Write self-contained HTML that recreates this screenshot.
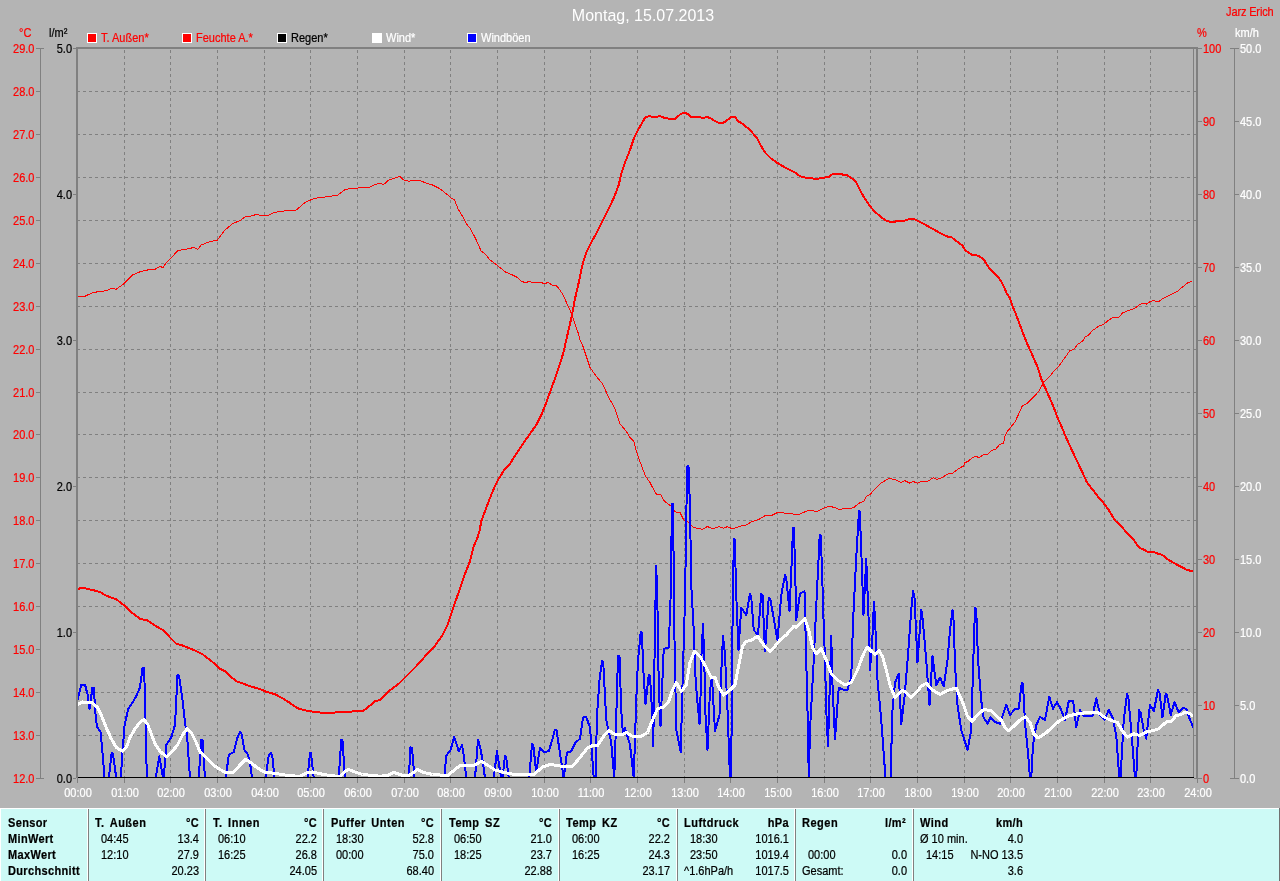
<!DOCTYPE html>
<html><head><meta charset="utf-8"><title>Montag, 15.07.2013</title>
<style>
html,body{margin:0;padding:0;background:#b4b4b4;overflow:hidden}
body{width:1280px;height:881px;position:relative;font-family:"Liberation Sans",sans-serif;font-size:11px;line-height:11px}
svg{position:absolute;left:0;top:0}
.t{position:absolute;white-space:nowrap;height:11px;line-height:11px;transform:scaleY(1.13);transform-origin:50% 50%;-webkit-text-stroke:0.2px currentColor;will-change:transform}
.r{color:#ff0000}.w{color:#ffffff}.k{color:#000000}
.ra{text-align:right}
.ca{text-align:center}
#tbl{position:absolute;left:0;top:808px;width:1280px;height:73px;background:#cdfaf6}
#tbl .b{font-weight:bold;letter-spacing:0.35px}
</style></head><body>

<svg width="1280" height="881" viewBox="0 0 1280 881" shape-rendering="crispEdges">
<path d="M124.5 50V777M170.5 50V777M217.5 50V777M264.5 50V777M310.5 50V777M357.5 50V777M404.5 50V777M450.5 50V777M497.5 50V777M544.5 50V777M590.5 50V777M637.5 50V777M684.5 50V777M730.5 50V777M777.5 50V777M824.5 50V777M870.5 50V777M917.5 50V777M964.5 50V777M1010.5 50V777M1057.5 50V777M1104.5 50V777M1150.5 50V777M77 735.5H1193M77 692.5H1193M77 649.5H1193M77 606.5H1193M77 563.5H1193M77 520.5H1193M77 477.5H1193M77 434.5H1193M77 392.5H1193M77 349.5H1193M77 306.5H1193M77 263.5H1193M77 220.5H1193M77 177.5H1193M77 134.5H1193M77 91.5H1193" stroke="#808080" stroke-width="1" stroke-dasharray="3 3" fill="none"/>
</svg>
<svg width="1280" height="881" viewBox="0 0 1280 881">
<defs><clipPath id="cp"><rect x="78" y="49" width="1116" height="728"/></clipPath></defs>
<g fill="none" stroke-linejoin="round" stroke-linecap="butt" clip-path="url(#cp)" shape-rendering="crispEdges">
<path d="M77.50 296.50 L85.00 296.25 L91.25 293.25 L98.75 291.50 L106.25 290.75 L111.25 288.50 L116.25 289.25 L123.75 283.75 L132.50 275.00 L140.00 271.75 L147.50 270.00 L155.00 269.25 L160.00 266.50 L163.00 267.50 L166.25 262.50 L173.75 255.00 L178.00 250.50 L185.00 249.50 L193.75 247.50 L198.00 249.25 L201.25 245.00 L208.75 242.00 L217.50 240.00 L225.00 230.00 L232.50 223.75 L240.00 220.50 L245.50 216.50 L251.25 216.00 L256.25 214.50 L262.50 215.50 L268.75 215.00 L273.75 212.50 L280.00 211.50 L287.50 210.50 L296.25 210.00 L305.00 202.50 L313.75 198.50 L321.25 197.50 L330.00 196.25 L338.00 195.00 L345.00 189.50 L353.75 188.25 L362.50 187.75 L370.00 187.00 L375.00 184.50 L380.00 183.25 L383.75 184.50 L388.75 180.00 L395.00 178.00 L400.00 176.50 L403.75 180.00 L408.75 181.25 L413.75 180.25 L420.00 180.75 L426.25 183.00 L432.50 185.00 L440.00 188.75 L446.25 193.75 L451.25 198.00 L454.50 200.00 L458.00 208.75 L462.50 216.25 L466.25 223.75 L470.50 228.75 L476.25 240.00 L481.25 251.25 L485.00 253.75 L490.00 260.00 L497.50 265.50 L505.00 271.75 L512.50 275.00 L517.50 277.50 L521.25 281.25 L525.00 282.50 L528.75 281.75 L535.00 282.50 L541.25 282.50 L544.50 283.75 L548.00 282.50 L552.00 285.00 L556.25 285.50 L560.00 290.00 L563.75 296.25 L567.50 305.00 L571.25 313.00 L575.00 323.75 L578.00 332.50 L580.00 340.00 L582.50 345.00 L590.00 367.50 L596.25 376.25 L602.50 383.75 L608.75 397.50 L615.00 408.75 L620.00 423.75 L626.25 431.25 L630.00 437.50 L633.75 441.25 L637.50 455.00 L641.25 465.00 L645.50 476.25 L650.00 482.50 L654.50 491.25 L657.00 495.00 L660.50 494.50 L664.50 501.25 L671.25 506.25 L675.50 512.00 L680.00 512.50 L683.75 520.00 L688.75 522.50 L692.50 526.75 L696.25 528.25 L702.50 529.25 L707.50 526.50 L712.50 528.75 L718.75 526.75 L723.75 528.25 L727.00 526.75 L732.50 528.75 L740.00 526.25 L746.25 525.00 L751.25 522.00 L758.75 519.50 L766.25 515.00 L772.50 515.00 L777.50 512.50 L783.75 513.00 L792.50 514.00 L800.00 514.00 L806.25 511.25 L811.25 510.00 L816.25 512.00 L822.50 508.75 L828.75 506.25 L835.00 507.50 L840.00 510.00 L843.75 508.25 L847.50 509.00 L853.75 507.50 L860.00 502.50 L863.75 501.50 L866.25 496.25 L870.00 494.38 L875.62 488.50 L880.00 483.75 L884.38 481.00 L889.38 478.50 L894.38 479.38 L900.62 482.50 L904.75 480.62 L909.75 483.12 L913.12 481.50 L917.50 483.12 L921.25 481.50 L926.25 481.50 L929.38 480.38 L933.12 477.75 L936.88 479.38 L941.88 477.75 L948.12 473.75 L952.50 473.38 L958.75 468.50 L963.75 465.88 L964.75 462.75 L968.12 461.25 L973.12 457.25 L976.25 456.50 L979.38 457.75 L983.12 454.75 L987.50 454.38 L991.25 450.62 L995.62 449.38 L999.38 444.75 L1003.50 443.12 L1005.00 436.25 L1007.50 431.25 L1015.00 421.88 L1020.00 411.25 L1022.00 406.25 L1027.50 403.00 L1033.75 397.00 L1038.75 391.25 L1043.75 382.50 L1048.75 377.50 L1053.75 371.25 L1058.75 366.25 L1065.00 357.50 L1070.00 350.50 L1073.75 349.50 L1077.50 344.50 L1082.50 341.25 L1085.00 337.00 L1088.75 335.00 L1092.50 330.50 L1098.75 326.25 L1103.75 324.25 L1108.75 320.00 L1113.75 317.00 L1118.75 317.50 L1122.50 313.00 L1127.50 310.75 L1135.00 308.25 L1140.00 304.25 L1143.75 303.25 L1146.25 304.25 L1150.00 301.75 L1153.75 300.50 L1158.00 302.00 L1162.50 298.75 L1170.00 295.00 L1177.50 291.25 L1182.50 287.00 L1187.50 283.00 L1192.50 280.75" stroke="#ff0000" stroke-width="1"/>
<path d="M77.50 700.00 L81.25 685.00 L85.00 684.50 L88.00 696.25 L89.50 708.75 L92.50 687.50 L94.00 687.50 L95.00 710.00 L97.00 727.00 L100.50 732.00 L102.50 752.50 L104.50 778.00 L108.75 778.00 L111.75 752.50 L113.00 753.75 L116.25 778.00 L120.75 778.00 L122.50 752.50 L124.50 726.25 L128.00 709.25 L132.50 702.50 L136.25 696.25 L140.00 687.50 L142.50 668.00 L144.00 668.00 L145.00 696.25 L146.00 750.00 L147.00 778.00 L155.75 778.00 L159.25 756.25 L161.25 767.50 L163.00 778.00 L163.75 778.00 L166.25 745.00 L171.25 737.50 L175.00 725.00 L177.50 675.00 L179.00 675.50 L182.50 700.00 L185.00 722.50 L187.00 735.00 L190.00 778.00 L198.75 778.00 L201.25 739.50 L202.50 740.00 L205.00 778.00 L225.75 778.00 L228.75 755.00 L233.75 752.00 L237.50 737.50 L240.00 732.00 L241.25 732.50 L244.50 750.00 L247.50 753.75 L250.00 762.50 L252.00 778.00 L265.50 778.00 L268.75 755.00 L271.25 753.00 L272.50 757.50 L274.50 778.00 L307.50 778.00 L310.00 753.00 L311.00 753.00 L313.75 778.00 L338.75 778.00 L341.25 740.00 L342.50 740.50 L345.00 778.00 L408.75 778.00 L410.50 747.50 L412.00 748.00 L414.50 778.00 L444.25 778.00 L446.25 755.75 L450.50 750.00 L454.25 737.00 L458.75 751.25 L462.00 745.00 L463.75 755.00 L466.25 778.00 L475.00 778.00 L478.00 740.00 L480.00 746.25 L482.50 760.00 L485.00 778.00 L493.75 778.00 L497.00 751.25 L499.50 767.50 L501.25 778.00 L502.50 778.00 L505.00 755.75 L506.25 757.50 L508.75 778.00 L529.25 778.00 L532.00 743.75 L533.25 745.00 L536.25 772.50 L540.00 747.50 L543.75 752.00 L548.75 751.25 L552.50 738.75 L555.00 729.50 L556.50 730.00 L559.50 750.00 L563.75 778.00 L567.00 752.50 L571.25 751.25 L575.50 742.50 L580.00 738.75 L583.00 717.50 L586.25 717.00 L590.00 727.50 L593.75 778.00 L595.50 778.00 L597.00 715.00 L599.50 680.00 L602.00 661.25 L603.25 662.50 L606.25 720.00 L611.25 742.50 L614.25 778.00 L616.25 717.50 L618.00 656.25 L619.50 656.25 L621.25 710.00 L623.00 735.00 L625.00 728.00 L630.00 745.00 L633.75 778.00 L636.25 700.00 L638.00 660.00 L640.75 632.00 L642.00 632.50 L643.00 665.00 L645.50 703.75 L648.75 675.00 L650.00 676.25 L652.00 710.00 L653.25 746.25 L655.00 625.00 L656.25 565.50 L657.50 610.00 L658.75 685.00 L660.50 726.25 L662.00 690.00 L663.75 648.75 L668.75 647.50 L670.50 600.00 L672.00 504.25 L673.00 504.25 L674.50 640.00 L676.25 730.00 L680.75 752.00 L682.50 685.00 L685.00 600.00 L686.50 505.00 L687.50 466.25 L688.50 466.25 L690.00 507.50 L691.25 585.00 L693.75 630.00 L695.00 670.00 L697.00 697.50 L699.50 723.75 L700.00 722.50 L701.25 660.00 L703.00 623.50 L704.25 660.00 L705.50 715.00 L707.50 750.00 L710.00 690.00 L712.00 677.50 L715.00 731.25 L719.50 715.00 L721.25 672.50 L723.00 635.50 L725.00 655.00 L727.50 710.00 L730.00 778.00 L731.25 778.00 L732.00 660.00 L733.50 560.00 L734.00 539.25 L734.75 539.25 L736.25 595.00 L738.50 650.00 L741.25 607.50 L746.25 615.00 L750.00 593.75 L751.25 597.00 L753.75 630.00 L758.00 635.00 L761.25 593.75 L762.50 595.00 L765.00 651.25 L768.75 597.50 L770.50 600.00 L777.50 640.00 L781.25 595.00 L785.00 575.00 L786.25 578.75 L789.50 611.25 L792.00 555.00 L793.00 527.50 L793.75 527.50 L795.00 562.00 L796.25 620.00 L800.00 593.75 L804.50 591.25 L806.25 660.00 L808.00 730.00 L808.75 778.00 L810.00 730.00 L813.75 660.00 L817.00 590.00 L818.50 560.00 L819.75 534.50 L820.50 534.50 L822.00 567.00 L823.00 605.00 L825.00 660.00 L826.25 710.00 L828.00 746.25 L831.25 636.00 L832.50 685.00 L835.00 738.75 L838.75 687.50 L842.50 689.50 L847.50 689.50 L851.25 677.50 L853.00 622.50 L856.25 557.00 L859.00 511.25 L859.75 511.25 L861.25 550.00 L863.50 615.00 L866.25 558.75 L868.75 622.50 L870.00 670.00 L872.50 635.00 L874.00 601.50 L875.75 635.00 L877.50 680.00 L881.25 720.00 L885.50 778.00 L890.50 778.00 L892.50 710.00 L895.00 682.50 L898.75 673.75 L901.25 723.75 L904.50 697.50 L908.00 655.00 L911.25 610.00 L913.10 591.00 L914.50 597.50 L917.50 662.50 L921.25 610.00 L922.50 617.50 L926.25 660.00 L929.50 705.00 L932.50 656.25 L936.25 685.00 L940.00 677.50 L943.75 686.25 L947.50 660.00 L950.00 630.00 L952.50 610.00 L953.75 622.50 L955.00 665.00 L957.50 705.00 L961.25 730.00 L967.50 750.00 L971.25 730.00 L973.00 670.00 L975.00 607.50 L976.25 610.00 L978.00 660.00 L981.25 700.00 L983.00 716.25 L987.50 723.75 L990.50 717.50 L995.00 722.00 L1000.00 723.75 L1006.25 704.50 L1010.00 715.00 L1015.00 708.75 L1018.75 708.75 L1021.75 682.50 L1023.00 683.75 L1025.00 722.50 L1028.00 752.50 L1030.00 778.00 L1031.25 778.00 L1033.00 745.00 L1036.25 725.00 L1040.00 717.00 L1045.00 720.00 L1049.25 696.75 L1053.00 708.75 L1057.00 702.00 L1061.25 710.00 L1065.00 720.00 L1068.75 701.25 L1073.25 701.25 L1076.25 727.00 L1080.00 710.00 L1083.75 716.25 L1092.50 716.25 L1096.25 698.25 L1100.00 715.00 L1104.50 720.00 L1108.75 710.00 L1112.50 717.50 L1116.25 735.00 L1119.25 778.00 L1120.50 778.00 L1123.75 720.00 L1127.00 693.75 L1128.25 696.25 L1131.25 730.00 L1135.00 778.00 L1136.25 778.00 L1139.00 710.00 L1140.50 712.50 L1143.75 730.00 L1146.25 738.75 L1150.00 705.00 L1153.75 711.25 L1158.00 690.00 L1159.50 692.50 L1162.50 717.50 L1165.75 693.75 L1167.00 695.00 L1170.75 715.00 L1174.50 702.00 L1178.75 712.50 L1183.25 708.00 L1186.25 708.75 L1190.00 720.00 L1193.75 728.00" stroke="#0000ff" stroke-width="2"/>
<path d="M77.50 588.75 L83.75 588.00 L92.50 590.00 L100.00 592.00 L106.25 595.75 L116.25 599.25 L123.75 605.00 L132.50 613.25 L140.00 618.75 L147.50 620.50 L156.25 626.25 L163.75 630.50 L170.00 637.50 L176.25 643.75 L182.50 645.50 L187.50 647.50 L195.00 650.50 L202.50 654.25 L210.00 660.00 L216.25 665.00 L220.00 668.75 L225.00 671.25 L231.25 677.00 L236.25 681.25 L242.50 683.25 L250.00 686.25 L260.00 689.00 L266.25 691.75 L275.00 694.25 L282.50 698.25 L290.00 703.00 L297.50 708.25 L303.75 710.00 L310.00 711.25 L320.00 712.50 L335.00 712.50 L347.50 712.00 L356.25 711.00 L363.75 710.50 L370.00 705.50 L375.00 701.25 L380.00 700.00 L388.75 691.25 L398.75 683.75 L407.50 675.00 L416.25 666.25 L426.25 655.00 L433.75 647.50 L442.50 635.00 L447.50 625.00 L451.25 613.75 L455.00 602.50 L460.00 588.75 L465.00 573.75 L470.00 561.25 L473.75 546.25 L477.50 537.50 L479.50 531.25 L481.25 521.25 L485.00 511.25 L488.75 501.25 L493.75 488.75 L498.75 478.75 L505.00 468.75 L510.00 463.75 L516.25 453.75 L522.50 444.50 L528.75 435.50 L536.25 425.00 L541.25 415.00 L546.25 402.50 L551.25 388.75 L556.25 375.00 L561.25 360.00 L563.75 351.25 L566.25 340.00 L570.00 323.75 L572.50 312.50 L575.00 298.75 L578.75 282.50 L581.25 270.00 L583.75 260.00 L586.25 252.50 L591.25 242.50 L597.50 231.25 L603.75 218.75 L610.00 206.25 L615.00 195.00 L618.75 185.00 L621.25 173.75 L625.00 162.50 L630.00 150.00 L633.75 138.75 L638.75 128.75 L641.25 124.50 L645.00 117.50 L648.75 116.25 L655.00 117.00 L660.00 116.25 L665.00 118.00 L670.00 118.75 L675.50 118.75 L680.00 114.50 L683.75 112.75 L687.50 113.75 L691.25 117.00 L698.75 117.00 L702.50 118.00 L707.50 117.00 L711.25 118.75 L717.50 122.50 L723.75 122.50 L727.50 120.00 L731.25 116.75 L735.00 116.50 L738.00 121.25 L742.50 123.75 L750.00 130.00 L757.50 138.75 L761.25 146.25 L765.00 152.50 L771.25 158.75 L777.50 163.00 L785.00 167.50 L795.00 172.50 L800.00 176.25 L807.50 178.25 L817.50 178.75 L825.00 177.50 L828.75 177.00 L832.50 174.25 L840.00 174.00 L847.50 175.50 L852.50 178.75 L856.25 182.50 L860.00 190.00 L863.75 197.00 L870.00 206.25 L875.00 211.75 L880.00 216.25 L885.00 220.00 L891.25 222.50 L898.75 220.75 L905.00 220.50 L910.00 219.00 L915.00 219.50 L922.50 223.25 L932.50 228.75 L941.25 233.75 L947.50 236.50 L951.25 237.00 L957.50 242.00 L962.50 245.50 L965.00 250.00 L971.25 254.50 L978.75 255.75 L983.75 259.50 L988.75 267.50 L995.00 273.75 L1000.00 279.50 L1003.75 286.25 L1006.25 292.50 L1010.00 298.00 L1012.50 306.25 L1016.25 315.00 L1020.00 325.00 L1023.75 335.00 L1027.50 344.50 L1031.25 352.50 L1035.00 361.25 L1038.00 368.00 L1040.00 375.00 L1041.25 378.75 L1045.00 387.50 L1050.00 398.75 L1053.75 407.50 L1057.50 417.50 L1062.50 428.75 L1066.25 438.00 L1071.25 448.75 L1076.25 459.50 L1082.50 472.50 L1087.00 482.50 L1092.50 489.50 L1098.75 497.50 L1103.75 503.25 L1108.75 510.00 L1115.00 520.50 L1120.00 525.00 L1126.25 532.00 L1133.75 540.00 L1139.50 548.00 L1143.75 549.50 L1147.50 551.75 L1153.75 552.00 L1158.75 554.00 L1162.50 555.00 L1168.00 559.50 L1177.50 565.00 L1186.25 569.50 L1193.75 571.75" stroke="#ff0000" stroke-width="2"/>
<path d="M77.50 704.50 L82.50 702.00 L92.50 703.00 L97.50 707.50 L101.25 715.00 L106.25 727.50 L111.25 738.75 L116.25 747.50 L122.50 751.25 L126.25 747.50 L130.00 737.50 L135.00 728.75 L140.00 722.50 L143.75 719.50 L147.50 723.75 L151.25 733.75 L155.00 743.75 L160.00 751.25 L166.25 756.75 L171.25 752.50 L177.50 745.00 L182.50 735.00 L187.00 728.75 L191.25 732.50 L196.25 742.50 L200.00 752.00 L207.50 758.75 L215.00 766.25 L225.00 772.50 L233.75 772.00 L240.00 765.00 L245.50 759.50 L250.00 762.00 L257.50 768.00 L265.00 772.50 L275.00 773.25 L285.00 775.00 L300.00 776.50 L306.25 773.00 L312.50 772.00 L320.00 773.75 L330.00 775.50 L340.00 776.50 L345.00 771.25 L348.75 769.50 L355.00 772.00 L362.50 774.50 L372.50 775.50 L380.00 776.25 L387.50 775.50 L393.75 772.50 L401.25 775.00 L410.00 775.00 L417.50 769.50 L423.75 772.50 L432.50 774.50 L447.50 775.50 L455.00 769.50 L460.00 765.75 L473.75 765.50 L481.25 761.25 L487.50 765.00 L495.00 770.00 L502.50 772.00 L516.25 775.00 L533.75 774.50 L542.50 767.00 L550.00 764.50 L557.50 765.50 L565.00 767.00 L572.50 766.25 L580.00 757.50 L587.50 748.00 L592.50 745.50 L597.50 745.50 L603.75 736.25 L608.75 730.50 L615.00 734.50 L621.25 735.00 L626.25 732.50 L632.50 736.25 L641.25 736.25 L647.50 732.50 L652.50 720.00 L657.50 708.75 L663.75 707.00 L668.75 701.25 L672.50 690.00 L676.25 682.50 L681.25 691.25 L686.25 685.00 L690.00 662.50 L694.50 651.25 L700.00 656.25 L706.25 667.50 L711.25 677.50 L715.00 677.50 L718.75 687.50 L723.75 695.00 L730.00 690.00 L735.00 685.00 L738.75 665.00 L742.50 646.25 L746.25 641.25 L751.25 640.50 L757.50 636.25 L763.75 645.00 L770.00 651.25 L775.00 646.25 L780.00 640.00 L786.25 635.00 L793.75 626.25 L796.25 627.50 L805.00 618.75 L808.75 630.00 L812.50 647.50 L816.25 653.75 L821.25 648.75 L826.25 660.00 L831.25 673.75 L837.50 680.00 L845.00 685.00 L851.25 682.50 L857.50 670.00 L862.50 656.25 L867.00 647.00 L871.25 651.25 L875.00 654.50 L878.75 650.50 L882.50 656.25 L886.25 670.00 L890.00 685.00 L895.00 697.50 L898.75 693.75 L902.50 690.50 L906.25 692.50 L911.25 697.50 L916.25 692.50 L921.25 686.25 L926.25 683.25 L932.50 690.00 L940.00 694.50 L947.50 690.50 L956.25 688.00 L963.75 705.00 L967.50 716.25 L972.00 721.25 L977.50 715.00 L983.75 709.50 L991.25 710.75 L997.50 717.00 L1001.25 720.00 L1005.00 727.50 L1008.75 730.75 L1013.75 726.25 L1020.00 720.00 L1025.50 717.00 L1030.00 722.50 L1033.75 733.75 L1038.00 738.00 L1045.00 733.75 L1052.50 727.00 L1058.75 721.25 L1067.50 716.25 L1077.50 713.75 L1087.50 712.50 L1098.75 713.00 L1105.00 717.50 L1111.25 720.50 L1117.50 722.50 L1122.50 731.25 L1127.50 737.00 L1133.75 733.75 L1140.00 735.50 L1146.25 732.00 L1152.50 730.75 L1158.75 728.75 L1166.25 722.00 L1171.25 721.25 L1176.25 715.50 L1181.25 714.50 L1185.00 712.00 L1190.00 713.75 L1194.50 717.00" stroke="#ffffff" stroke-width="3" stroke-linecap="round"/>
</g>
<g shape-rendering="crispEdges" fill="#808080">
<rect x="76" y="47" width="1122" height="2"/>
<rect x="76" y="47" width="2" height="731"/>
<rect x="1196" y="47" width="2" height="732"/>
<rect x="1193" y="49" width="1" height="729"/>
<rect x="78" y="777" width="1116" height="1" fill="#000"/>
<rect x="1194" y="778" width="7" height="1"/>
<rect x="1194" y="735" width="2" height="1"/>
<rect x="1194" y="692" width="2" height="1"/>
<rect x="1194" y="649" width="2" height="1"/>
<rect x="1194" y="606" width="2" height="1"/>
<rect x="1194" y="563" width="2" height="1"/>
<rect x="1194" y="520" width="2" height="1"/>
<rect x="1194" y="477" width="2" height="1"/>
<rect x="1194" y="434" width="2" height="1"/>
<rect x="1194" y="392" width="2" height="1"/>
<rect x="1194" y="349" width="2" height="1"/>
<rect x="1194" y="306" width="2" height="1"/>
<rect x="1194" y="263" width="2" height="1"/>
<rect x="1194" y="220" width="2" height="1"/>
<rect x="1194" y="177" width="2" height="1"/>
<rect x="1194" y="134" width="2" height="1"/>
<rect x="1194" y="91" width="2" height="1"/>
<rect x="40" y="48" width="1" height="731"/>
<rect x="36" y="778" width="8" height="1"/>
<rect x="36" y="735" width="4" height="1"/>
<rect x="36" y="692" width="4" height="1"/>
<rect x="36" y="649" width="4" height="1"/>
<rect x="36" y="606" width="4" height="1"/>
<rect x="36" y="563" width="4" height="1"/>
<rect x="36" y="520" width="4" height="1"/>
<rect x="36" y="477" width="4" height="1"/>
<rect x="36" y="434" width="4" height="1"/>
<rect x="36" y="392" width="4" height="1"/>
<rect x="36" y="349" width="4" height="1"/>
<rect x="36" y="306" width="4" height="1"/>
<rect x="36" y="263" width="4" height="1"/>
<rect x="36" y="220" width="4" height="1"/>
<rect x="36" y="177" width="4" height="1"/>
<rect x="36" y="134" width="4" height="1"/>
<rect x="36" y="91" width="4" height="1"/>
<rect x="36" y="48" width="8" height="1"/>
<rect x="73" y="778" width="3" height="1"/>
<rect x="73" y="632" width="3" height="1"/>
<rect x="73" y="486" width="3" height="1"/>
<rect x="73" y="340" width="3" height="1"/>
<rect x="73" y="194" width="3" height="1"/>
<rect x="73" y="48" width="3" height="1"/>
<rect x="1198" y="778" width="4" height="1"/>
<rect x="1198" y="705" width="4" height="1"/>
<rect x="1198" y="632" width="4" height="1"/>
<rect x="1198" y="559" width="4" height="1"/>
<rect x="1198" y="486" width="4" height="1"/>
<rect x="1198" y="413" width="4" height="1"/>
<rect x="1198" y="340" width="4" height="1"/>
<rect x="1198" y="267" width="4" height="1"/>
<rect x="1198" y="194" width="4" height="1"/>
<rect x="1198" y="121" width="4" height="1"/>
<rect x="1198" y="48" width="4" height="1"/>
<rect x="1234" y="48" width="1" height="731"/>
<rect x="1230" y="778" width="9" height="1"/>
<rect x="1235" y="705" width="4" height="1"/>
<rect x="1235" y="632" width="4" height="1"/>
<rect x="1235" y="559" width="4" height="1"/>
<rect x="1235" y="486" width="4" height="1"/>
<rect x="1235" y="413" width="4" height="1"/>
<rect x="1235" y="340" width="4" height="1"/>
<rect x="1235" y="267" width="4" height="1"/>
<rect x="1235" y="194" width="4" height="1"/>
<rect x="1235" y="121" width="4" height="1"/>
<rect x="1230" y="48" width="9" height="1"/>
<rect x="77" y="778" width="1" height="5"/>
<rect x="124" y="778" width="1" height="5"/>
<rect x="170" y="778" width="1" height="5"/>
<rect x="217" y="778" width="1" height="5"/>
<rect x="264" y="778" width="1" height="5"/>
<rect x="310" y="778" width="1" height="5"/>
<rect x="357" y="778" width="1" height="5"/>
<rect x="404" y="778" width="1" height="5"/>
<rect x="450" y="778" width="1" height="5"/>
<rect x="497" y="778" width="1" height="5"/>
<rect x="544" y="778" width="1" height="5"/>
<rect x="590" y="778" width="1" height="5"/>
<rect x="637" y="778" width="1" height="5"/>
<rect x="684" y="778" width="1" height="5"/>
<rect x="730" y="778" width="1" height="5"/>
<rect x="777" y="778" width="1" height="5"/>
<rect x="824" y="778" width="1" height="5"/>
<rect x="870" y="778" width="1" height="5"/>
<rect x="917" y="778" width="1" height="5"/>
<rect x="964" y="778" width="1" height="5"/>
<rect x="1010" y="778" width="1" height="5"/>
<rect x="1057" y="778" width="1" height="5"/>
<rect x="1104" y="778" width="1" height="5"/>
<rect x="1150" y="778" width="1" height="5"/>
<rect x="1197" y="778" width="1" height="5"/>
</g>
<rect x="87" y="33" width="10" height="10" fill="#fff" shape-rendering="crispEdges"/><rect x="88" y="34" width="8" height="8" fill="#ff0000" shape-rendering="crispEdges"/>
<rect x="182" y="33" width="10" height="10" fill="#fff" shape-rendering="crispEdges"/><rect x="183" y="34" width="8" height="8" fill="#ff0000" shape-rendering="crispEdges"/>
<rect x="277" y="33" width="10" height="10" fill="#fff" shape-rendering="crispEdges"/><rect x="278" y="34" width="8" height="8" fill="#000000" shape-rendering="crispEdges"/>
<rect x="372" y="33" width="10" height="10" fill="#fff" shape-rendering="crispEdges"/><rect x="373" y="34" width="8" height="8" fill="#ffffff" shape-rendering="crispEdges"/>
<rect x="467" y="33" width="10" height="10" fill="#fff" shape-rendering="crispEdges"/><rect x="468" y="34" width="8" height="8" fill="#0000ff" shape-rendering="crispEdges"/>
</svg>
<div class="t w" style="left:0px;top:7px;width:1286px;text-align:center;font-size:16px;line-height:18px;height:18px;color:#fff;transform:scaleY(1.03);-webkit-text-stroke:0;">Montag, 15.07.2013</div>
<div class="t r" style="left:1180px;top:6.5px;width:93.5px;text-align:right;letter-spacing:-0.15px;">Jarz Erich</div>
<div class="t r" style="left:100.8px;top:33px;">T. Außen*</div>
<div class="t r" style="left:195.8px;top:33px;">Feuchte A.*</div>
<div class="t k" style="left:290.8px;top:33px;">Regen*</div>
<div class="t w" style="left:385.8px;top:33px;">Wind*</div>
<div class="t w" style="left:480.8px;top:33px;">Windböen</div>
<div class="t r" style="left:19px;top:27.5px;">°C</div>
<div class="t k" style="left:49px;top:27.5px;">l/m²</div>
<div class="t r" style="left:1197px;top:27.5px;">%</div>
<div class="t w" style="left:1235px;top:27.5px;">km/h</div>
<div class="t r" style="left:0px;top:774px;width:34.5px;text-align:right;">12.0</div>
<div class="t r" style="left:0px;top:731px;width:34.5px;text-align:right;">13.0</div>
<div class="t r" style="left:0px;top:688px;width:34.5px;text-align:right;">14.0</div>
<div class="t r" style="left:0px;top:645px;width:34.5px;text-align:right;">15.0</div>
<div class="t r" style="left:0px;top:602px;width:34.5px;text-align:right;">16.0</div>
<div class="t r" style="left:0px;top:559px;width:34.5px;text-align:right;">17.0</div>
<div class="t r" style="left:0px;top:516px;width:34.5px;text-align:right;">18.0</div>
<div class="t r" style="left:0px;top:473px;width:34.5px;text-align:right;">19.0</div>
<div class="t r" style="left:0px;top:430px;width:34.5px;text-align:right;">20.0</div>
<div class="t r" style="left:0px;top:388px;width:34.5px;text-align:right;">21.0</div>
<div class="t r" style="left:0px;top:345px;width:34.5px;text-align:right;">22.0</div>
<div class="t r" style="left:0px;top:302px;width:34.5px;text-align:right;">23.0</div>
<div class="t r" style="left:0px;top:259px;width:34.5px;text-align:right;">24.0</div>
<div class="t r" style="left:0px;top:216px;width:34.5px;text-align:right;">25.0</div>
<div class="t r" style="left:0px;top:173px;width:34.5px;text-align:right;">26.0</div>
<div class="t r" style="left:0px;top:130px;width:34.5px;text-align:right;">27.0</div>
<div class="t r" style="left:0px;top:87px;width:34.5px;text-align:right;">28.0</div>
<div class="t r" style="left:0px;top:44px;width:34.5px;text-align:right;">29.0</div>
<div class="t k" style="left:40px;top:774px;width:32px;text-align:right;">0.0</div>
<div class="t k" style="left:40px;top:628px;width:32px;text-align:right;">1.0</div>
<div class="t k" style="left:40px;top:482px;width:32px;text-align:right;">2.0</div>
<div class="t k" style="left:40px;top:336px;width:32px;text-align:right;">3.0</div>
<div class="t k" style="left:40px;top:190px;width:32px;text-align:right;">4.0</div>
<div class="t k" style="left:40px;top:44px;width:32px;text-align:right;">5.0</div>
<div class="t r" style="left:1203px;top:774px;">0</div>
<div class="t w" style="left:1240px;top:774px;">0.0</div>
<div class="t r" style="left:1203px;top:701px;">10</div>
<div class="t w" style="left:1240px;top:701px;">5.0</div>
<div class="t r" style="left:1203px;top:628px;">20</div>
<div class="t w" style="left:1240px;top:628px;">10.0</div>
<div class="t r" style="left:1203px;top:555px;">30</div>
<div class="t w" style="left:1240px;top:555px;">15.0</div>
<div class="t r" style="left:1203px;top:482px;">40</div>
<div class="t w" style="left:1240px;top:482px;">20.0</div>
<div class="t r" style="left:1203px;top:409px;">50</div>
<div class="t w" style="left:1240px;top:409px;">25.0</div>
<div class="t r" style="left:1203px;top:336px;">60</div>
<div class="t w" style="left:1240px;top:336px;">30.0</div>
<div class="t r" style="left:1203px;top:263px;">70</div>
<div class="t w" style="left:1240px;top:263px;">35.0</div>
<div class="t r" style="left:1203px;top:190px;">80</div>
<div class="t w" style="left:1240px;top:190px;">40.0</div>
<div class="t r" style="left:1203px;top:117px;">90</div>
<div class="t w" style="left:1240px;top:117px;">45.0</div>
<div class="t r" style="left:1203px;top:44px;">100</div>
<div class="t w" style="left:1240px;top:44px;">50.0</div>
<div class="t w" style="left:47.5px;top:787.5px;width:60px;text-align:center;">00:00</div>
<div class="t w" style="left:94.5px;top:787.5px;width:60px;text-align:center;">01:00</div>
<div class="t w" style="left:140.5px;top:787.5px;width:60px;text-align:center;">02:00</div>
<div class="t w" style="left:187.5px;top:787.5px;width:60px;text-align:center;">03:00</div>
<div class="t w" style="left:234.5px;top:787.5px;width:60px;text-align:center;">04:00</div>
<div class="t w" style="left:280.5px;top:787.5px;width:60px;text-align:center;">05:00</div>
<div class="t w" style="left:327.5px;top:787.5px;width:60px;text-align:center;">06:00</div>
<div class="t w" style="left:374.5px;top:787.5px;width:60px;text-align:center;">07:00</div>
<div class="t w" style="left:420.5px;top:787.5px;width:60px;text-align:center;">08:00</div>
<div class="t w" style="left:467.5px;top:787.5px;width:60px;text-align:center;">09:00</div>
<div class="t w" style="left:514.5px;top:787.5px;width:60px;text-align:center;">10:00</div>
<div class="t w" style="left:560.5px;top:787.5px;width:60px;text-align:center;">11:00</div>
<div class="t w" style="left:607.5px;top:787.5px;width:60px;text-align:center;">12:00</div>
<div class="t w" style="left:654.5px;top:787.5px;width:60px;text-align:center;">13:00</div>
<div class="t w" style="left:700.5px;top:787.5px;width:60px;text-align:center;">14:00</div>
<div class="t w" style="left:747.5px;top:787.5px;width:60px;text-align:center;">15:00</div>
<div class="t w" style="left:794.5px;top:787.5px;width:60px;text-align:center;">16:00</div>
<div class="t w" style="left:840.5px;top:787.5px;width:60px;text-align:center;">17:00</div>
<div class="t w" style="left:887.5px;top:787.5px;width:60px;text-align:center;">18:00</div>
<div class="t w" style="left:934.5px;top:787.5px;width:60px;text-align:center;">19:00</div>
<div class="t w" style="left:980.5px;top:787.5px;width:60px;text-align:center;">20:00</div>
<div class="t w" style="left:1027.5px;top:787.5px;width:60px;text-align:center;">21:00</div>
<div class="t w" style="left:1074.5px;top:787.5px;width:60px;text-align:center;">22:00</div>
<div class="t w" style="left:1120.5px;top:787.5px;width:60px;text-align:center;">23:00</div>
<div class="t w" style="left:1167.5px;top:787.5px;width:60px;text-align:center;">24:00</div>
<div id="tbl">
<div style="position:absolute;left:0;top:0;width:1280px;height:1px;background:#fff"></div>
<div style="position:absolute;left:0;top:0;width:1px;height:73px;background:#fff"></div>
<div style="position:absolute;left:1279px;top:0;width:1px;height:73px;background:#707070"></div>
<div style="position:absolute;left:88px;top:1px;width:1px;height:72px;background:#808080"></div>
<div style="position:absolute;left:87px;top:1px;width:1px;height:72px;background:#fff"></div>
<div style="position:absolute;left:205px;top:1px;width:1px;height:72px;background:#808080"></div>
<div style="position:absolute;left:204px;top:1px;width:1px;height:72px;background:#fff"></div>
<div style="position:absolute;left:323px;top:1px;width:1px;height:72px;background:#808080"></div>
<div style="position:absolute;left:322px;top:1px;width:1px;height:72px;background:#fff"></div>
<div style="position:absolute;left:441px;top:1px;width:1px;height:72px;background:#808080"></div>
<div style="position:absolute;left:440px;top:1px;width:1px;height:72px;background:#fff"></div>
<div style="position:absolute;left:559px;top:1px;width:1px;height:72px;background:#808080"></div>
<div style="position:absolute;left:558px;top:1px;width:1px;height:72px;background:#fff"></div>
<div style="position:absolute;left:677px;top:1px;width:1px;height:72px;background:#808080"></div>
<div style="position:absolute;left:676px;top:1px;width:1px;height:72px;background:#fff"></div>
<div style="position:absolute;left:795px;top:1px;width:1px;height:72px;background:#808080"></div>
<div style="position:absolute;left:794px;top:1px;width:1px;height:72px;background:#fff"></div>
<div style="position:absolute;left:913px;top:1px;width:1px;height:72px;background:#808080"></div>
<div style="position:absolute;left:912px;top:1px;width:1px;height:72px;background:#fff"></div>
<div class="t k b" style="left:8px;top:10px">Sensor</div>
<div class="t k b" style="left:8px;top:26px">MinWert</div>
<div class="t k b" style="left:8px;top:42px">MaxWert</div>
<div class="t k b" style="left:8px;top:58px">Durchschnitt</div>
<div class="t k b" style="left:95px;top:10px;word-spacing:2px;letter-spacing:0.5px">T. Außen</div>
<div class="t k b" style="left:98.7px;top:10px;width:100px;text-align:right">°C</div>
<div class="t k" style="left:100.5px;top:26px">04:45</div>
<div class="t k" style="left:98.7px;top:26px;width:100px;text-align:right">13.4</div>
<div class="t k" style="left:100.5px;top:42px">12:10</div>
<div class="t k" style="left:98.7px;top:42px;width:100px;text-align:right">27.9</div>
<div class="t k" style="left:98.7px;top:58px;width:100px;text-align:right">20.23</div>
<div class="t k b" style="left:212.86px;top:10px;word-spacing:2px;letter-spacing:0.5px">T. Innen</div>
<div class="t k b" style="left:216.56px;top:10px;width:100px;text-align:right">°C</div>
<div class="t k" style="left:218.36px;top:26px">06:10</div>
<div class="t k" style="left:216.56px;top:26px;width:100px;text-align:right">22.2</div>
<div class="t k" style="left:218.36px;top:42px">16:25</div>
<div class="t k" style="left:216.56px;top:42px;width:100px;text-align:right">26.8</div>
<div class="t k" style="left:216.56px;top:58px;width:100px;text-align:right">24.05</div>
<div class="t k b" style="left:330.72px;top:10px;word-spacing:2px;letter-spacing:0.5px">Puffer Unten</div>
<div class="t k b" style="left:334.42px;top:10px;width:100px;text-align:right">°C</div>
<div class="t k" style="left:336.22px;top:26px">18:30</div>
<div class="t k" style="left:334.42px;top:26px;width:100px;text-align:right">52.8</div>
<div class="t k" style="left:336.22px;top:42px">00:00</div>
<div class="t k" style="left:334.42px;top:42px;width:100px;text-align:right">75.0</div>
<div class="t k" style="left:334.42px;top:58px;width:100px;text-align:right">68.40</div>
<div class="t k b" style="left:448.58px;top:10px;word-spacing:2px;letter-spacing:0.5px">Temp SZ</div>
<div class="t k b" style="left:452.28px;top:10px;width:100px;text-align:right">°C</div>
<div class="t k" style="left:454.08px;top:26px">06:50</div>
<div class="t k" style="left:452.28px;top:26px;width:100px;text-align:right">21.0</div>
<div class="t k" style="left:454.08px;top:42px">18:25</div>
<div class="t k" style="left:452.28px;top:42px;width:100px;text-align:right">23.7</div>
<div class="t k" style="left:452.28px;top:58px;width:100px;text-align:right">22.88</div>
<div class="t k b" style="left:566.44px;top:10px;word-spacing:2px;letter-spacing:0.5px">Temp KZ</div>
<div class="t k b" style="left:570.14px;top:10px;width:100px;text-align:right">°C</div>
<div class="t k" style="left:571.94px;top:26px">06:00</div>
<div class="t k" style="left:570.14px;top:26px;width:100px;text-align:right">22.2</div>
<div class="t k" style="left:571.94px;top:42px">16:25</div>
<div class="t k" style="left:570.14px;top:42px;width:100px;text-align:right">24.3</div>
<div class="t k" style="left:570.14px;top:58px;width:100px;text-align:right">23.17</div>
<div class="t k b" style="left:684.3px;top:10px;word-spacing:2px;letter-spacing:0.5px">Luftdruck</div>
<div class="t k b" style="left:688.7px;top:10px;width:100px;text-align:right">hPa</div>
<div class="t k" style="left:689.8px;top:26px">18:30</div>
<div class="t k" style="left:688.7px;top:26px;width:100px;text-align:right">1016.1</div>
<div class="t k" style="left:689.8px;top:42px">23:50</div>
<div class="t k" style="left:688.7px;top:42px;width:100px;text-align:right">1019.4</div>
<div class="t k" style="left:683.8px;top:58px">^1.6hPa/h</div>
<div class="t k" style="left:688.7px;top:58px;width:100px;text-align:right">1017.5</div>
<div class="t k b" style="left:802.16px;top:10px;word-spacing:2px;letter-spacing:0.5px">Regen</div>
<div class="t k b" style="left:805.56px;top:10px;width:100px;text-align:right">l/m²</div>
<div class="t k" style="left:807.66px;top:42px">00:00</div>
<div class="t k" style="left:806.56px;top:42px;width:100px;text-align:right">0.0</div>
<div class="t k" style="left:801.66px;top:58px">Gesamt:</div>
<div class="t k" style="left:806.56px;top:58px;width:100px;text-align:right">0.0</div>
<div class="t k b" style="left:920.02px;top:10px;word-spacing:2px;letter-spacing:0.5px">Wind</div>
<div class="t k b" style="left:922.62px;top:10px;width:100px;text-align:right">km/h</div>
<div class="t k" style="left:919.52px;top:26px">Ø 10 min.</div>
<div class="t k" style="left:922.62px;top:26px;width:100px;text-align:right">4.0</div>
<div class="t k" style="left:925.52px;top:42px">14:15</div>
<div class="t k" style="left:922.62px;top:42px;width:100px;text-align:right">N-NO 13.5</div>
<div class="t k" style="left:922.62px;top:58px;width:100px;text-align:right">3.6</div>
</div>
</body></html>
